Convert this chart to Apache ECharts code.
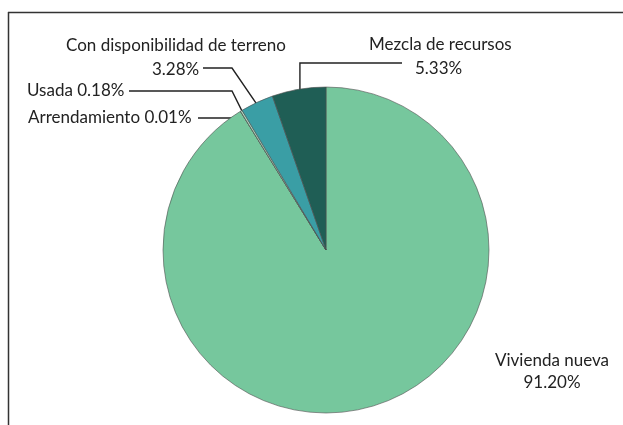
<!DOCTYPE html>
<html>
<head>
<meta charset="utf-8">
<script src="https://cdn.jsdelivr.net/npm/echarts@6/dist/echarts.min.js"></script>
<style>
  html, body { margin: 0; padding: 0; background: #fff; }
  #chart { width: 623px; height: 425px; }
</style>
</head>
<body>
<div id="chart"></div>
<script>
// datos (orden horario desde las 12)
const names = ['Vivienda nueva', 'Arrendamiento', 'Usada', 'Con disponibilidad de terreno', 'Mezcla de recursos']
const values = [91.20, 0.01, 0.18, 3.28, 5.33]
const colors = ['#76c79d', '#cfe9d8', '#b3dfc5', '#3a9ea5', '#1f5e55']

const CENTER = [326, 250]
const RADIUS = 163

// posicion de etiquetas: x, y (arriba-izq), fin y codo de la linea guia
const labelPos = {
  'Vivienda nueva': { x: 552, y: 350, align: 'center' },
  'Arrendamiento': { x: 28, y: 106, lineY: 118, lineX: 198 },
  'Usada': { x: 27, y: 79, lineY: 91, lineX: 129, elbowX: 232 },
  'Con disponibilidad de terreno': { x: 66, y: 34, lineY: 68, lineX: 203, elbowX: 232 },
  'Mezcla de recursos': { x: 369, y: 33, lineY: 63, lineX: 402 }
}

const total = values.reduce((a, b) => a + b, 0)
// angulo medio de cada porcion (grados, antihorario desde el eje x)
const midAngles = []
let acc = 0
values.forEach(v => {
  midAngles.push(90 - (acc + v / 2) / total * 360)
  acc += v
})

function anchorPoint(idx, k) {
  const a = midAngles[idx] * Math.PI / 180
  return [CENTER[0] + Math.cos(a) * RADIUS * k, CENTER[1] - Math.sin(a) * RADIUS * k]
}

function fmt(p) {
  const pct = p.value.toFixed(2) + '%'
  switch (p.name) {
    case 'Vivienda nueva': return '{v|Vivienda nueva}\n{v|' + pct + '}'
    case 'Con disponibilidad de terreno': return '{n|Con disponibilidad de terreno}\n{r|' + pct + '}'
    case 'Mezcla de recursos': return '{n|Mezcla de recursos}\n{m|' + pct + '}'
    default: return '{n|' + p.name + ' ' + pct + '}'
  }
}

const chart = echarts.init(document.getElementById('chart'))

chart.setOption({
  backgroundColor: '#ffffff',
  animation: false,
  textStyle: { fontFamily: 'Lato' },
  graphic: [
    { type: 'line', shape: { x1: 8, y1: 12.5, x2: 623, y2: 12.5 }, style: { stroke: '#333', lineWidth: 1.5 } },
    { type: 'line', shape: { x1: 8.5, y1: 12, x2: 8.5, y2: 425 }, style: { stroke: '#333', lineWidth: 1.5 } }
  ],
  series: [{
    type: 'pie',
    center: CENTER,
    radius: RADIUS,
    startAngle: 90,
    clockwise: true,
    avoidLabelOverlap: false,
    minShowLabelAngle: 0,
    data: names.map((n, i) => ({ name: n, value: values[i], itemStyle: { color: colors[i] } })),
    itemStyle: { borderColor: '#4d4d4d', borderWidth: 0.6 },
    emphasis: { disabled: true },
    label: {
      show: true,
      formatter: fmt,
      color: '#222',
      rich: {
        n: { fontSize: 17, fontFamily: 'Lato', color: '#222', lineHeight: 24 },
        v: { fontSize: 17, fontFamily: 'Lato', color: '#222', lineHeight: 22 },
        r: { fontSize: 17, fontFamily: 'Lato', color: '#222', lineHeight: 24, padding: [0, 0, 0, 86] },
        m: { fontSize: 17, fontFamily: 'Lato', color: '#222', lineHeight: 24, padding: [0, 0, 0, 46] }
      }
    },
    labelLine: {
      show: true,
      lineStyle: { color: '#222', width: 1.4 }
    },
    labelLayout: (params) => {
      const name = names[params.dataIndex]
      const pos = labelPos[name]
      const res = { x: pos.x, y: pos.y, align: pos.align || 'left', verticalAlign: 'top' }
      if (pos.lineY != null) {
        const a = anchorPoint(params.dataIndex, 0.96)
        const elbow = pos.elbowX != null ? [pos.elbowX, pos.lineY] : [a[0], pos.lineY]
        res.labelLinePoints = [a, elbow, [pos.lineX, pos.lineY]]
      } else {
        res.labelLinePoints = [[0, 0], [0, 0], [0, 0]]
      }
      return res
    }
  }]
})
</script>
</body>
</html>
